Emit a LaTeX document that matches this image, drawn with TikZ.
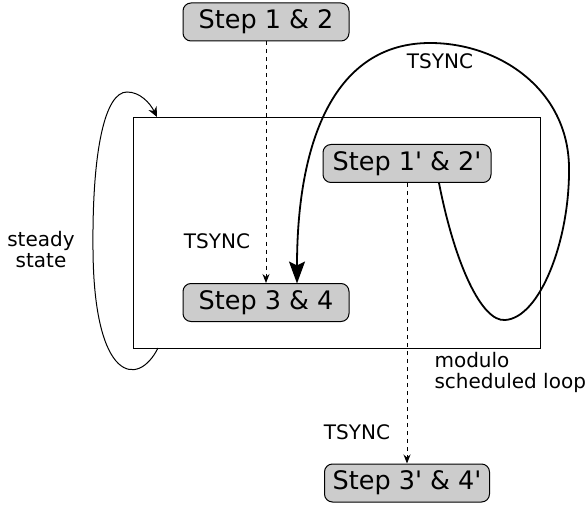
\documentclass[tikz,border=0pt]{standalone}
\usepackage{fontspec}
\setmainfont{DejaVu Sans}[Ligatures=TeXOff]
\usetikzlibrary{arrows.meta}
\begin{document}
\begin{tikzpicture}[x=1pt,y=-1pt,
  stepbox/.style={draw=black,line width=1pt,fill=black!20,rounded corners=8pt,minimum height=38pt,inner xsep=6pt,font=\fontsize{25.5}{30}\selectfont},
  lbl/.style={font=\fontsize{20}{24}\selectfont,align=left},
  dasharrow/.style={line width=0.9pt,dash pattern=on 4pt off 4pt,-{Stealth[length=9pt,width=7pt]}},
  thick curve/.style={line width=1.8pt},
  thin curve/.style={line width=1pt}]
\useasboundingbox (0,0) rectangle (586,505);
\node[draw=black,line width=1pt,minimum width=407pt,minimum height=231pt,inner sep=0pt] (loop) at (336.5,233) {};
\node[stepbox,minimum width=166pt] (s12) at (266,22) {Step 1 \& 2};
\node[stepbox,minimum width=168pt] (s12p) at (407,163.5) {Step 1' \& 2'};
\node[stepbox,minimum width=166pt] (s34) at (266,302.5) {Step 3 \& 4};
\node[stepbox,minimum width=165pt] (s34p) at (407,483) {Step 3' \& 4'};
\node[lbl] (t1) at (217,241) {TSYNC};
\node[lbl] (t2) at (440,61) {TSYNC};
\node[lbl] (t3) at (357,432) {TSYNC};
\node[lbl,align=center] (ss) at (41,250) {steady\\[-3pt]state};
\node[lbl,anchor=west] (msl) at (431,372) {modulo\\[-3pt]scheduled loop};
\draw[dasharrow] (s12.south) -- (s34.north);
\draw[dasharrow] (s12p.south) -- (s34p.north);
\coordinate (c1) at (439,183);
\coordinate (c2) at (505,320);
\coordinate (c3) at (569,167);
\coordinate (c4) at (430,43);
\coordinate (c5) at (297,283.5);
\draw[thick curve,-{Stealth[length=22pt,width=16pt,inset=4pt]}] (c1) .. controls (455,265) and (482,322) .. (c2)
  .. controls (540,318) and (570,240) .. (c3)
  .. controls (568,90) and (500,43) .. (c4)
  .. controls (335,43) and (297,140) .. (c5);
\coordinate (d1) at (158,348);
\coordinate (d2) at (93,250);
\coordinate (d3) at (127,92);
\coordinate (d4) at (157,117);
\draw[thin curve,-{Stealth[length=10pt,width=9pt]}] (d1) .. controls (138,388) and (94,382) .. (d2)
  .. controls (92,150) and (105,92) .. (d3)
  .. controls (140,92) and (150,103) .. (d4);
\end{tikzpicture}
\end{document}
